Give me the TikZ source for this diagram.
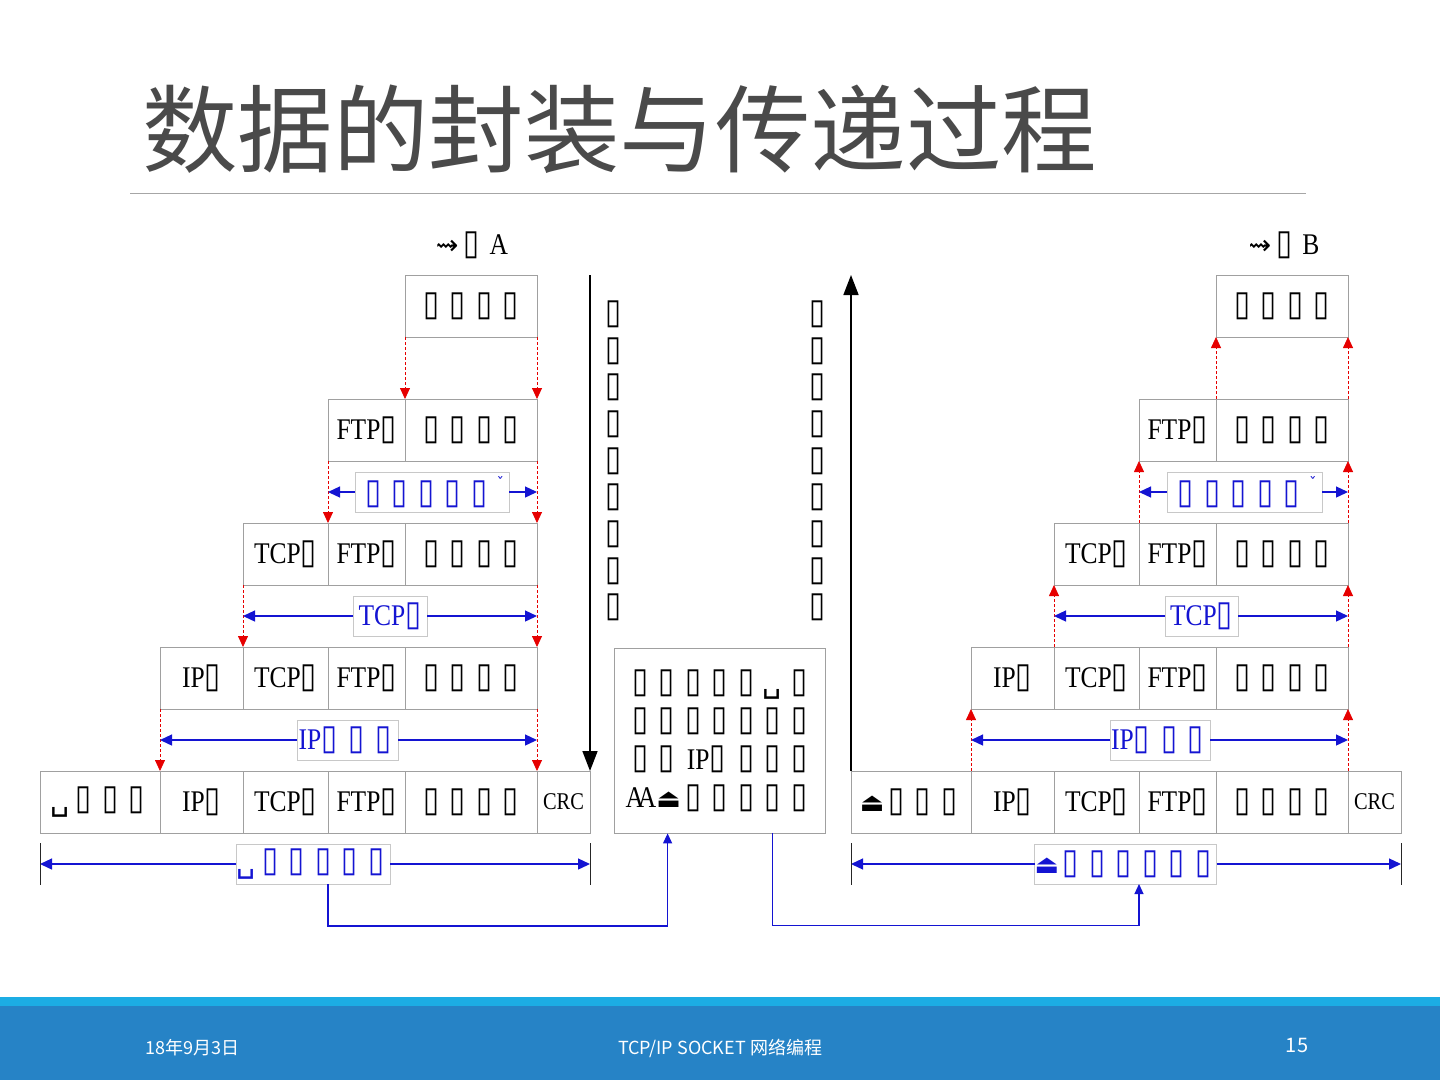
\documentclass[tikz,border=0pt]{standalone}
\usepackage{fontspec}
\usepackage{graphicx}
\usetikzlibrary{arrows.meta,calc}
\newfontfamily\cjk{Noto Sans CJK SC}
\newfontfamily\ser[FakeStretch=0.85]{Liberation Serif}
\newfontfamily\dv{DejaVu Sans}
\definecolor{cellgray}{HTML}{A0A0A0}
\definecolor{labgray}{HTML}{C8C8C8}
\definecolor{tblue}{HTML}{1414D2}
\definecolor{ared}{HTML}{E60000}
\definecolor{titlegray}{HTML}{4A4A4A}
\definecolor{rulegray}{HTML}{A6A6A6}
\definecolor{footlight}{HTML}{1CADE4}
\definecolor{footdark}{HTML}{2683C6}
\newsavebox\tfbox
\newcommand\tofu{\sbox\tfbox{\resizebox*{16pt}{27pt}{\dv ▯}}\raisebox{\dimexpr\dp\tfbox-4pt\relax}{\usebox\tfbox}}
\newcommand\tf{\makebox[26.5pt]{\tofu}}
\newcommand\dataT{\tf\tf\tf\tf}
\newcommand\ftpT{FTP\tofu}
\newcommand\tcpT{TCP\tofu}
\newcommand\ipT{IP\tofu}
\newcommand\spc{{\dv ␣}}
\newcommand\ej{{\dv\fontsize{26}{30}\selectfont ⏏}}
\newcommand\cell[5]{\node[cell,minimum width=#4pt] (#1) at (#2,#3) {#5};}
\begin{document}
\begin{tikzpicture}[x=1pt,y=-1pt,
  cell/.style={draw=cellgray,line width=0.8pt,minimum height=62pt,inner sep=0pt,outer sep=0pt,font=\ser\fontsize{30}{36}\selectfont},
  lab/.style={draw=labgray,fill=white,line width=0.6pt,inner sep=0pt,outer sep=0pt,minimum height=40pt,text=tblue,font=\ser\fontsize{30}{36}\selectfont},
  redarr/.style={draw=ared,line width=0.8pt,dash pattern=on 3pt off 2pt,-{Triangle[length=11pt,width=10pt]}},
  bluearr/.style={draw=tblue,line width=1.3pt,-{Triangle[length=12pt,width=11pt]}},
  bconn/.style={draw=tblue,line width=1.2pt,-{Triangle[length=10pt,width=9pt]}},
  bigarr/.style={draw=black,line width=1.6pt,-{Triangle[length=20pt,width=15pt]}},
  tickln/.style={draw=black!85,line width=1pt},
  vtext/.style={font=\fontsize{30}{36.7}\selectfont,align=center,inner sep=0pt},
  foot/.style={font=\cjk\fontsize{18}{20}\selectfont,text=white,inner sep=0pt},
  hostlab/.style={font=\ser\fontsize{30}{36}\selectfont,inner sep=0pt}
]
\useasboundingbox (0,0) rectangle (1440,1080);
\fill[white] (0,0) rectangle (1440,1080);

% title
\node[anchor=base west,font=\cjk\fontsize{95.5}{100}\selectfont,text=titlegray,inner sep=0pt] (title) at (142,165) {数据的封装与传递过程};
\draw[rulegray,line width=1pt] (130,193) -- (1306,193);

% host labels
\node[hostlab] (hostA) at (472,245) {{\dv\fontsize{27}{27}\selectfont ⇝}\hspace{5pt}\tofu\hspace{10pt}A};
\node[hostlab] (hostB) at (1284,245) {{\dv\fontsize{27}{27}\selectfont ⇝}\hspace{5pt}\tofu\hspace{10pt}B};

% left stack
\cell{a1d}{471}{306}{132}{\dataT}
\cell{a2f}{366.5}{430}{77}{\ftpT}
\cell{a2d}{471}{430}{132}{\dataT}
\cell{a3t}{285.5}{554}{85}{\tcpT}
\cell{a3f}{366.5}{554}{77}{\ftpT}
\cell{a3d}{471}{554}{132}{\dataT}
\cell{a4i}{201.5}{678}{83}{\ipT}
\cell{a4t}{285.5}{678}{85}{\tcpT}
\cell{a4f}{366.5}{678}{77}{\ftpT}
\cell{a4d}{471}{678}{132}{\dataT}
\cell{a5h}{100}{802}{120}{\makebox[20pt][l]{\spc}\tf\tf\tf}
\cell{a5i}{201.5}{802}{83}{\ipT}
\cell{a5t}{285.5}{802}{85}{\tcpT}
\cell{a5f}{366.5}{802}{77}{\ftpT}
\cell{a5d}{471}{802}{132}{\dataT}
\cell{a5c}{563.5}{802}{53}{\fontsize{24}{28}\selectfont CRC}

% right stack
\cell{b1d}{1282}{306}{132}{\dataT}
\cell{b2f}{1177.5}{430}{77}{\ftpT}
\cell{b2d}{1282}{430}{132}{\dataT}
\cell{b3t}{1096.5}{554}{85}{\tcpT}
\cell{b3f}{1177.5}{554}{77}{\ftpT}
\cell{b3d}{1282}{554}{132}{\dataT}
\cell{b4i}{1012.5}{678}{83}{\ipT}
\cell{b4t}{1096.5}{678}{85}{\tcpT}
\cell{b4f}{1177.5}{678}{77}{\ftpT}
\cell{b4d}{1282}{678}{132}{\dataT}
\cell{b5h}{911}{802}{120}{\makebox[23pt][l]{\ej}\tf\tf\tf}
\cell{b5i}{1012.5}{802}{83}{\ipT}
\cell{b5t}{1096.5}{802}{85}{\tcpT}
\cell{b5f}{1177.5}{802}{77}{\ftpT}
\cell{b5d}{1282}{802}{132}{\dataT}
\cell{b5c}{1374.5}{802}{53}{\fontsize{24}{28}\selectfont CRC}

% middle box
\node[draw=cellgray,line width=0.8pt,minimum width=211pt,minimum height=185pt,inner sep=0pt,align=center,font=\ser\fontsize{30}{38.3}\selectfont] (mid) at (719.5,740.5)
 {\tf\tf\tf\tf\tf\makebox[26.5pt]{\spc}\tf\\
  \tf\tf\tf\tf\tf\tf\tf\\
  \tf\tf\makebox[53pt]{IP\tofu}\tf\tf\tf\\
  \makebox[53pt]{A\kern-6pt A\ej}\tf\tf\tf\tf\tf};

% vertical texts
\node[vtext] (vl) at (613,461) {\tofu\\\tofu\\\tofu\\\tofu\\\tofu\\\tofu\\\tofu\\\tofu\\\tofu};
\node[vtext] (vr) at (817,461) {\tofu\\\tofu\\\tofu\\\tofu\\\tofu\\\tofu\\\tofu\\\tofu\\\tofu};

% big arrows
\draw[bigarr] ($(a1d.north east)+(53,0)$) -- (a5c.north east);
\draw[bigarr] (b5h.north west) -- (b5h.north west |- b1d.north);

% red arrows left (down)
\draw[redarr] (a1d.south west) -- (a2d.north west);
\draw[redarr] (a1d.south east) -- (a2d.north east);
\draw[redarr] (a2f.south west) -- (a3f.north west);
\draw[redarr] (a2d.south east) -- (a3d.north east);
\draw[redarr] (a3t.south west) -- (a4t.north west);
\draw[redarr] (a3d.south east) -- (a4d.north east);
\draw[redarr] (a4i.south west) -- (a5i.north west);
\draw[redarr] (a4d.south east) -- (a5d.north east);
% red arrows right (up)
\draw[redarr] (b2d.north west) -- (b1d.south west);
\draw[redarr] (b2d.north east) -- (b1d.south east);
\draw[redarr] (b3f.north west) -- (b2f.south west);
\draw[redarr] (b3d.north east) -- (b2d.south east);
\draw[redarr] (b4t.north west) -- (b3t.south west);
\draw[redarr] (b4d.north east) -- (b3d.south east);
\draw[redarr] (b5i.north west) -- (b4i.south west);
\draw[redarr] (b5d.north east) -- (b4d.south east);

% blue labels left
\node[lab,minimum width=154pt] (la1) at (432,492) {\tf\tf\tf\tf\tf\hspace{4pt}\raisebox{15pt}{\dv\fontsize{15}{15}\selectfont ˇ}};
\node[lab,minimum width=74pt] (la2) at (390,616) {TCP\tofu};
\node[lab,minimum width=101pt] (la3) at (347.5,740) {IP\tofu\hspace{6pt}\tf\tf};
\node[lab,minimum width=154pt] (la4) at (313,864) {\makebox[20pt][l]{\spc}\tf\tf\tf\tf\tf};
% blue labels right
\node[lab,minimum width=155pt] (lb1) at (1244.5,492) {\tf\tf\tf\tf\tf\hspace{4pt}\raisebox{15pt}{\dv\fontsize{15}{15}\selectfont ˇ}};
\node[lab,minimum width=73pt] (lb2) at (1201.5,616) {TCP\tofu};
\node[lab,minimum width=100pt] (lb3) at (1160,740) {IP\tofu\hspace{6pt}\tf\tf};
\node[lab,minimum width=181pt] (lb4) at (1125.5,864) {\makebox[23pt][l]{\ej}\tf\tf\tf\tf\tf\tf};

% blue arrows left
\draw[bluearr] (la1.west) -- ($(a2f.south west)!.5!(a3f.north west)$);
\draw[bluearr] (la1.east) -- ($(a2d.south east)!.5!(a3d.north east)$);
\draw[bluearr] (la2.west) -- ($(a3t.south west)!.5!(a4t.north west)$);
\draw[bluearr] (la2.east) -- ($(a3d.south east)!.5!(a4d.north east)$);
\draw[bluearr] (la3.west) -- ($(a4i.south west)!.5!(a5i.north west)$);
\draw[bluearr] (la3.east) -- ($(a4d.south east)!.5!(a5d.north east)$);
\draw[bluearr] (la4.west) -- ($(a5h.south west)+(0,31)$);
\draw[bluearr] (la4.east) -- ($(a5c.south east)+(0,31)$);
\draw[tickln] ($(a5h.south west)+(0,10)$) -- ($(a5h.south west)+(0,52)$);
\draw[tickln] ($(a5c.south east)+(0,10)$) -- ($(a5c.south east)+(0,52)$);
% blue arrows right
\draw[bluearr] (lb1.west) -- ($(b2f.south west)!.5!(b3f.north west)$);
\draw[bluearr] (lb1.east) -- ($(b2d.south east)!.5!(b3d.north east)$);
\draw[bluearr] (lb2.west) -- ($(b3t.south west)!.5!(b4t.north west)$);
\draw[bluearr] (lb2.east) -- ($(b3d.south east)!.5!(b4d.north east)$);
\draw[bluearr] (lb3.west) -- ($(b4i.south west)!.5!(b5i.north west)$);
\draw[bluearr] (lb3.east) -- ($(b4d.south east)!.5!(b5d.north east)$);
\draw[bluearr] (lb4.west) -- ($(b5h.south west)+(0,31)$);
\draw[bluearr] (lb4.east) -- ($(b5c.south east)+(0,31)$);
\draw[tickln] ($(b5h.south west)+(0,10)$) -- ($(b5h.south west)+(0,52)$);
\draw[tickln] ($(b5c.south east)+(0,10)$) -- ($(b5c.south east)+(0,52)$);

% bottom connectors
\coordinate (m1) at ($(mid.south west)+(54,0)$);
\coordinate (m2) at ($(mid.south west)+(159,0)$);
\draw[bconn] (la4.south -| a2f.west) -- ++(0,42) -| (m1);
\draw[bconn] (m2) -- ++(0,92) -| (lb4.south -| b2f.west);

% footer
\fill[footlight] (0,997) rectangle (1440,1080);
\fill[footdark] (0,1006) rectangle (1440,1080);
\node[foot,anchor=base west] (fdate) at (145,1054) {18年9月3日};
\node[foot,anchor=base] (ftitle) at (720,1054) {TCP/IP SOCKET 网络编程};
\node[foot,anchor=base,font=\cjk\fontsize{20}{22}\selectfont] (fpage) at (1297,1052) {15};
\end{tikzpicture}
\end{document}
